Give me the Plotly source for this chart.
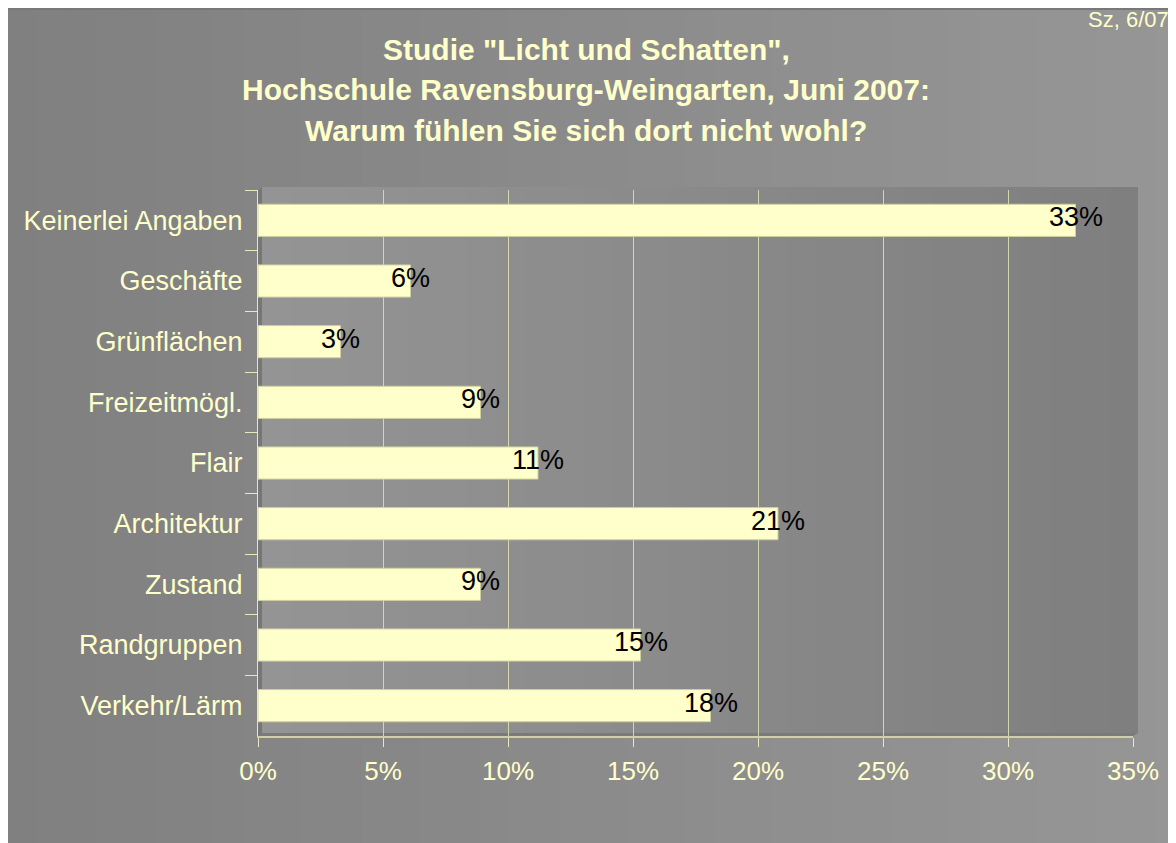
import plotly.graph_objects as go

# ---- data ----
categories = ["Keinerlei Angaben", "Geschäfte", "Grünflächen", "Freizeitmögl.", "Flair",
              "Architektur", "Zustand", "Randgruppen", "Verkehr/Lärm"]
values = [32.7, 6.1, 3.3, 8.9, 11.2, 20.8, 8.9, 15.3, 18.1]
value_labels = ["33%", "6%", "3%", "9%", "11%", "21%", "9%", "15%", "18%"]
x_ticks = [0, 5, 10, 15, 20, 25, 30, 35]
x_tick_labels = ["0%", "5%", "10%", "15%", "20%", "25%", "30%", "35%"]
title_lines = ['Studie "Licht und Schatten",',
               'Hochschule Ravensburg-Weingarten, Juni 2007:',
               'Warum fühlen Sie sich dort nicht wohl?']
corner_note = "Sz, 6/07"

# ---- layout geometry (pixels, figure coordinates; page has an 8px body margin) ----
OFF = 8
W, H = 1176, 843
L, R, T, B = 258 - OFF, 1133 - OFF, 190 - OFF, 736 - OFF
PW, PH = R - L, B - T

def px(x):
    return (x - OFF - L) / PW

def py(y):
    return (B - (y - OFF)) / PH

YEL = "#FFFFCC"
FONT = "Liberation Sans, Arial, sans-serif"

def lerp_gray(a, b, t):
    v = round(a + (b - a) * t)
    return f"rgb({v},{v},{v})"

shapes = []
# page background gradient (dark left -> light right)
n = 40
x0, x1 = OFF, W + OFF
for i in range(n):
    xa = x0 + (x1 - x0) * i / n
    xb = x0 + (x1 - x0) * (i + 1) / n + 1
    shapes.append(dict(type="rect", xref="paper", yref="paper", layer="below",
                       x0=px(xa), x1=px(xb), y0=py(H + OFF), y1=py(OFF),
                       line=dict(width=0), fillcolor=lerp_gray(128, 150, i / (n - 1))))
# top border line of page
shapes.append(dict(type="line", xref="paper", yref="paper", layer="below",
                   x0=px(OFF), x1=px(W + OFF), y0=py(9), y1=py(9),
                   line=dict(color="#787878", width=2)))
# plot wall gradient (light left -> dark right)
m = 30
wx0, wx1, wy0, wy1 = 262, 1138, 187, 733
for i in range(m):
    xa = wx0 + (wx1 - wx0) * i / m
    xb = wx0 + (wx1 - wx0) * (i + 1) / m + 1
    shapes.append(dict(type="rect", xref="paper", yref="paper", layer="below",
                       x0=px(xa), x1=px(min(xb, wx1)), y0=py(wy1), y1=py(wy0),
                       line=dict(width=0), fillcolor=lerp_gray(148, 127, i / (m - 1))))
# floor and side wall of 3D box
fx0, fx1, fy0, fy1 = px(258), px(1133), py(736), py(190)
shapes.append(dict(type="path", xref="paper", yref="paper", layer="below",
                   path=f"M {fx0} {fy0} L {px(wx0)} {py(wy1)} L {px(wx1)} {py(wy1)} L {fx1} {fy0} Z",
                   fillcolor="#7A7A7A", line=dict(width=0)))
shapes.append(dict(type="path", xref="paper", yref="paper", layer="below",
                   path=f"M {fx0} {fy0} L {px(wx0)} {py(wy1)} L {px(wx0)} {py(wy0)} L {fx0} {fy1} Z",
                   fillcolor="#777777", line=dict(width=0)))

fig = go.Figure()
fig.add_trace(go.Bar(
    x=values, y=categories, orientation="h", width=0.53,
    marker=dict(color=YEL, line=dict(color="#CFCF9F", width=1)),
    hoverinfo="skip",
))

annotations = []
for c, v, lab in zip(categories, values, value_labels):
    annotations.append(dict(x=v, y=c, xref="x", yref="y", text=lab, showarrow=False,
                            xanchor="center", yanchor="middle", yshift=3,
                            font=dict(family=FONT, size=27, color="black")))
for line, yy in zip(title_lines, [49, 90, 131]):
    annotations.append(dict(x=px(586), y=py(yy), xref="paper", yref="paper", text=f"<b>{line}</b>",
                            showarrow=False, xanchor="center", yanchor="middle",
                            font=dict(family=FONT, size=30, color=YEL)))
annotations.append(dict(x=px(1171), y=py(19), xref="paper", yref="paper", text=corner_note,
                        showarrow=False, xanchor="right", yanchor="middle",
                        font=dict(family=FONT, size=22, color=YEL)))

fig.update_layout(
    width=W, height=H,
    margin=dict(l=L, r=W - R, t=T, b=H - B, pad=0),
    paper_bgcolor="#8A8A8A", plot_bgcolor="rgba(0,0,0,0)",
    showlegend=False, bargap=0.47,
    shapes=shapes, annotations=annotations,
    xaxis=dict(range=[0, 35], tickvals=x_ticks, ticktext=x_tick_labels,
               showgrid=True, gridcolor="#D6D6AE", gridwidth=1, zeroline=False,
               showline=True, linecolor="#CFCFA8", linewidth=2,
               ticks="outside", ticklen=9, tickcolor="#E8E8BC", tickwidth=1,
               ticklabelstandoff=2,
               tickfont=dict(family=FONT, size=26, color=YEL), fixedrange=True),
    yaxis=dict(categoryorder="array", categoryarray=categories, autorange="reversed",
               showgrid=False, zeroline=False,
               showline=True, linecolor="#E8E8BC", linewidth=1,
               ticks="outside", ticklen=12, tickcolor="#E8E8BC", tickson="boundaries",
               ticklabelstandoff=9,
               tickfont=dict(family=FONT, size=27, color=YEL), fixedrange=True),
)

fig.write_html("out.html")
